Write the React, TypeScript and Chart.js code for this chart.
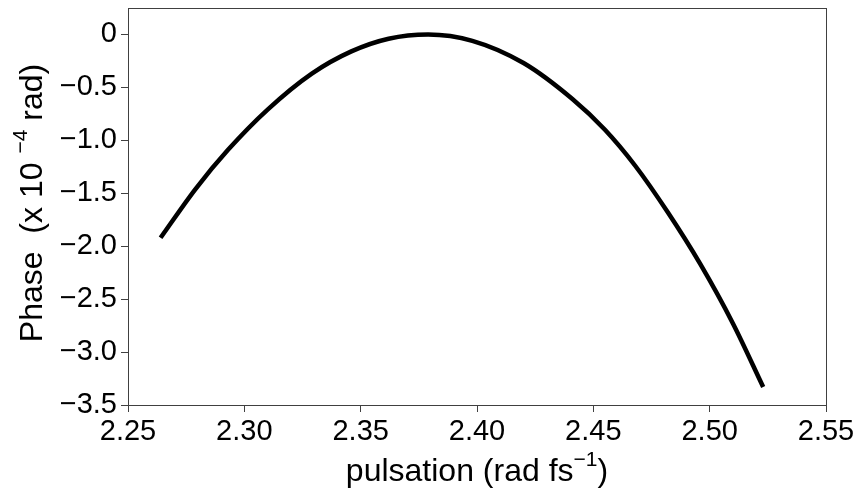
import React, { useEffect, useRef } from "react";
import { Chart, registerables } from "chart.js";

Chart.register(...registerables);

// ---- data ----
const pulsation = [
  2.264, 2.279, 2.293, 2.31, 2.329, 2.346, 2.362, 2.379, 2.398,
  2.42, 2.441, 2.455, 2.468, 2.482, 2.496, 2.51, 2.523,
];
const phase = [
  -1.92, -1.46, -1.09, -0.71, -0.37, -0.16, -0.04, 0.0, -0.06,
  -0.27, -0.61, -0.9, -1.24, -1.68, -2.17, -2.73, -3.33,
];
const xTickValues = [2.25, 2.3, 2.35, 2.4, 2.45, 2.5, 2.55];
const xTickLabels = ["2.25", "2.30", "2.35", "2.40", "2.45", "2.50", "2.55"];
const yTickValues = [-3.5, -3.0, -2.5, -2.0, -1.5, -1.0, -0.5, 0];
const yTickLabels = ["−3.5", "−3.0", "−2.5", "−2.0", "−1.5", "−1.0", "−0.5", "0"];

// axis titles as [text, isSuperscript] parts
const xTitleParts: [string, boolean][] = [
  ["pulsation (rad fs", false],
  ["−1", true],
  [")", false],
];
const yTitleParts: [string, boolean][] = [
  ["Phase  (x 10 ", false],
  ["−4", true],
  [" rad)", false],
];

const FONT = '"Liberation Sans", Arial, Helvetica, sans-serif';
const TITLE_SIZE = 32;
const SUP_SIZE = 21;
const SUP_RAISE = 15;

function drawParts(ctx: CanvasRenderingContext2D, parts: [string, boolean][]) {
  let total = 0;
  const widths: number[] = [];
  for (const [t, sup] of parts) {
    ctx.font = `${sup ? SUP_SIZE : TITLE_SIZE}px ${FONT}`;
    const w = ctx.measureText(t).width;
    widths.push(w);
    total += w;
  }
  let x = -total / 2;
  parts.forEach(([t, sup], i) => {
    ctx.font = `${sup ? SUP_SIZE : TITLE_SIZE}px ${FONT}`;
    ctx.fillText(t, x, sup ? -SUP_RAISE : 0);
    x += widths[i];
  });
}

const framePlugin = {
  id: "frameAndTitles",
  afterDraw(chart: any) {
    const { ctx, chartArea } = chart;
    ctx.save();
    ctx.strokeStyle = "#404040";
    ctx.lineWidth = 1;
    ctx.strokeRect(
      Math.round(chartArea.left) + 0.5,
      Math.round(chartArea.top) + 0.5,
      Math.round(chartArea.right - chartArea.left),
      Math.round(chartArea.bottom - chartArea.top)
    );
    ctx.fillStyle = "#000";
    ctx.textBaseline = "alphabetic";
    ctx.textAlign = "left";
    // x title
    ctx.save();
    ctx.translate((chartArea.left + chartArea.right) / 2, 481);
    drawParts(ctx, xTitleParts);
    ctx.restore();
    // y title
    ctx.save();
    ctx.translate(42, 203);
    ctx.rotate(-Math.PI / 2);
    drawParts(ctx, yTitleParts);
    ctx.restore();
    ctx.restore();
  },
};

export default function App() {
  const ref = useRef<HTMLCanvasElement | null>(null);
  useEffect(() => {
    if (!ref.current) return;
    const chart = new Chart(ref.current, {
      type: "line",
      data: {
        datasets: [
          {
            data: pulsation.map((x, i) => ({ x, y: phase[i] })),
            borderColor: "#000",
            borderWidth: 4.5,
            pointRadius: 0,
            cubicInterpolationMode: "monotone",
            fill: false,
          },
        ],
      },
      options: {
        animation: false,
        responsive: false,
        layout: { padding: { left: 0, top: 8, right: 32, bottom: 0 } },
        plugins: { legend: { display: false }, tooltip: { enabled: false } },
        scales: {
          x: {
            type: "linear",
            min: 2.25,
            max: 2.55,
            afterBuildTicks: (s: any) => {
              s.ticks = xTickValues.map((v) => ({ value: v }));
            },
            afterFit: (s: any) => {
              s.height = 87;
              s.paddingLeft = 0;
              s.paddingRight = 0;
            },
            grid: {
              display: true,
              drawOnChartArea: false,
              drawTicks: true,
              tickLength: 7,
              color: "#404040",
            },
            border: { display: true, color: "#404040" },
            ticks: {
              font: { family: FONT, size: 29 },
              color: "#000",
              padding: 3,
              maxRotation: 0,
              autoSkip: false,
              callback: (v: any) => {
                const i = xTickValues.findIndex((t) => Math.abs(t - v) < 1e-9);
                return i >= 0 ? xTickLabels[i] : "";
              },
            },
          },
          y: {
            type: "linear",
            min: -3.5,
            max: 0.25,
            afterBuildTicks: (s: any) => {
              s.ticks = yTickValues.map((v) => ({ value: v }));
            },
            afterFit: (s: any) => {
              s.width = 128;
              s.paddingTop = 0;
              s.paddingBottom = 0;
            },
            grid: {
              display: true,
              drawOnChartArea: false,
              drawTicks: true,
              tickLength: 7,
              color: "#404040",
            },
            border: { display: true, color: "#404040" },
            ticks: {
              font: { family: FONT, size: 29 },
              color: "#000",
              padding: 4,
              autoSkip: false,
              callback: (v: any) => {
                const i = yTickValues.findIndex((t) => Math.abs(t - v) < 1e-9);
                return i >= 0 ? yTickLabels[i] : "";
              },
            },
          },
        },
      },
      plugins: [framePlugin],
    });
    return () => chart.destroy();
  }, []);
  return (
    <div style={{ position: "fixed", left: 0, top: 0, width: 858, height: 492, background: "#fff" }}>
      <canvas ref={ref} width={858} height={492} />
    </div>
  );
}
